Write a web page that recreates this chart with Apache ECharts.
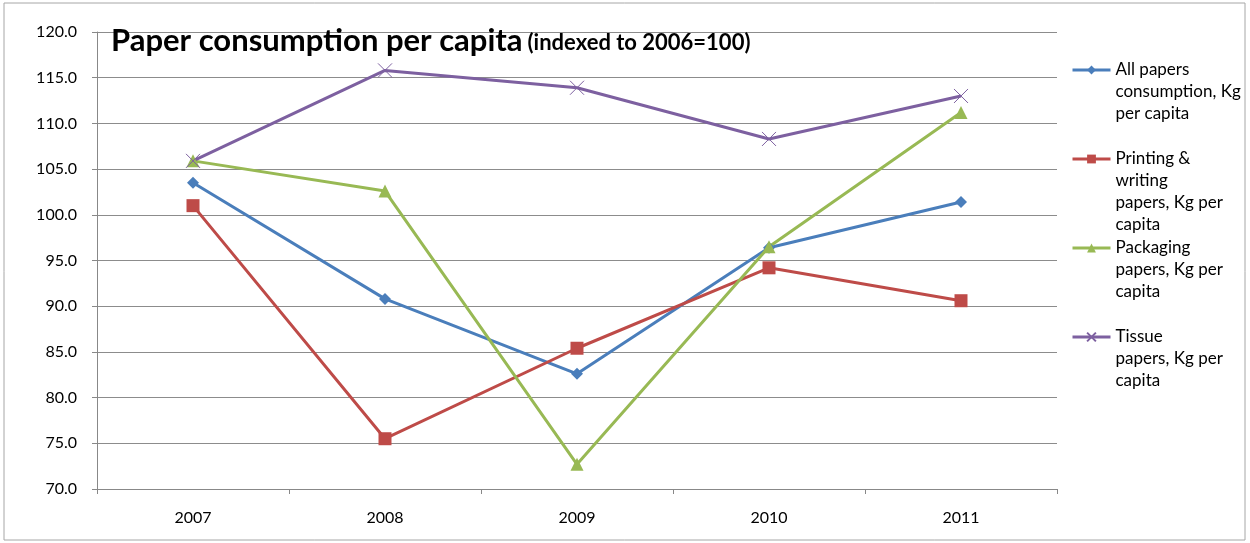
<!DOCTYPE html>
<html>
<head>
<meta charset="utf-8">
<script src="https://cdn.jsdelivr.net/npm/echarts@6/dist/echarts.min.js"></script>
<style>
  html, body { margin: 0; padding: 0; background: #fff; }
  #chart { width: 1250px; height: 543px; }
</style>
</head>
<body>
<div id="chart"></div>
<script>
// Paper consumption per capita, indexed to 2006 = 100
const years = ["2007", "2008", "2009", "2010", "2011"]
const allPapers = [103.5, 90.8, 82.6, 96.4, 101.4]
const printingWriting = [101.0, 75.5, 85.4, 94.2, 90.6]
const packaging = [105.9, 102.6, 72.7, 96.5, 111.2]
const tissue = [105.9, 115.8, 113.9, 108.3, 113.0]

const names = [
  "All papers\nconsumption, Kg\nper capita",
  "Printing &\nwriting\npapers, Kg per\ncapita",
  "Packaging\npapers, Kg per\ncapita",
  "Tissue\npapers, Kg per\ncapita"
]
const colors = ["#4A7EBB", "#BE4B48", "#98B954", "#7D60A0"]
const font = "Lato, 'Open Sans', sans-serif"
const crossPath = "path://M0,0L10,10M10,0L0,10"

const chart = echarts.init(document.getElementById("chart"), null, { renderer: "canvas" })

// one legend per entry so the wrapped text can hang below its icon
const lineH = 22
const iconY = [70, 159, 248, 337]
const legends = names.map((n, i) => {
  const lines = n.split("\n").length
  // blank lines in front so the first real line sits level with the icon
  const pad = "\n".repeat(lines - 1)
  return {
    orient: "vertical",
    left: 1071,
    top: iconY[i] - (2 * lines - 1) * lineH / 2,
    padding: 0,
    data: [n],
    formatter: s => pad + s,
    itemWidth: 38,
    itemHeight: 11,
    itemGap: 0,
    selectedMode: false,
    lineStyle: { width: 3 },
    textStyle: {
      fontFamily: font,
      fontSize: 17,
      color: "#000",
      lineHeight: lineH
    }
  }
})

function series(name, data, color, symbol, size, extra) {
  return Object.assign({
    name,
    type: "line",
    data,
    symbol,
    symbolSize: size,
    lineStyle: { color, width: 3 },
    itemStyle: { color },
    z: 3,
    animation: false
  }, extra || {})
}

chart.setOption({
  backgroundColor: "#fff",
  animation: false,
  title: {
    text: "{a|Paper consumption per capita} {b|(indexed to 2006=100)}",
    left: 106,
    top: 20,
    textStyle: {
      rich: {
        a: { fontFamily: font, fontSize: 31, fontWeight: "bold", color: "#000" },
        b: { fontFamily: font, fontSize: 22, fontWeight: "bold", color: "#000", padding: [5, 0, 0, 0] }
      }
    }
  },
  graphic: [{
    type: "rect",
    shape: { x: 4, y: 3, width: 1241, height: 537 },
    style: { fill: "none", stroke: "#a6a6a6", lineWidth: 1 },
    silent: true
  }],
  legend: legends,
  grid: { left: 97, right: 193, top: 32, bottom: 54 },
  xAxis: {
    type: "category",
    data: years,
    boundaryGap: true,
    axisLine: { lineStyle: { color: "#888", width: 1 } },
    axisTick: { show: true, length: 5, lineStyle: { color: "#888" } },
    axisLabel: { fontFamily: font, fontSize: 16, color: "#000", margin: 21 },
    splitLine: { show: false }
  },
  yAxis: {
    type: "value",
    min: 70,
    max: 120,
    interval: 5,
    axisLine: { show: true, lineStyle: { color: "#888", width: 1 } },
    axisTick: { show: true, length: 5, lineStyle: { color: "#888" } },
    axisLabel: {
      fontFamily: font, fontSize: 16, color: "#000", margin: 20,
      formatter: v => v.toFixed(1)
    },
    splitLine: { lineStyle: { color: "#8c8c8c", width: 1 } }
  },
  series: [
    series(names[0], allPapers, colors[0], "diamond", 12),
    series(names[1], printingWriting, colors[1], "rect", 13),
    series(names[2], packaging, colors[2], "triangle", 13),
    series(names[3], tissue, colors[3], crossPath, 14, {
      itemStyle: { color: "none", borderColor: colors[3], borderWidth: 1 }
    })
  ]
})
</script>
</body>
</html>
